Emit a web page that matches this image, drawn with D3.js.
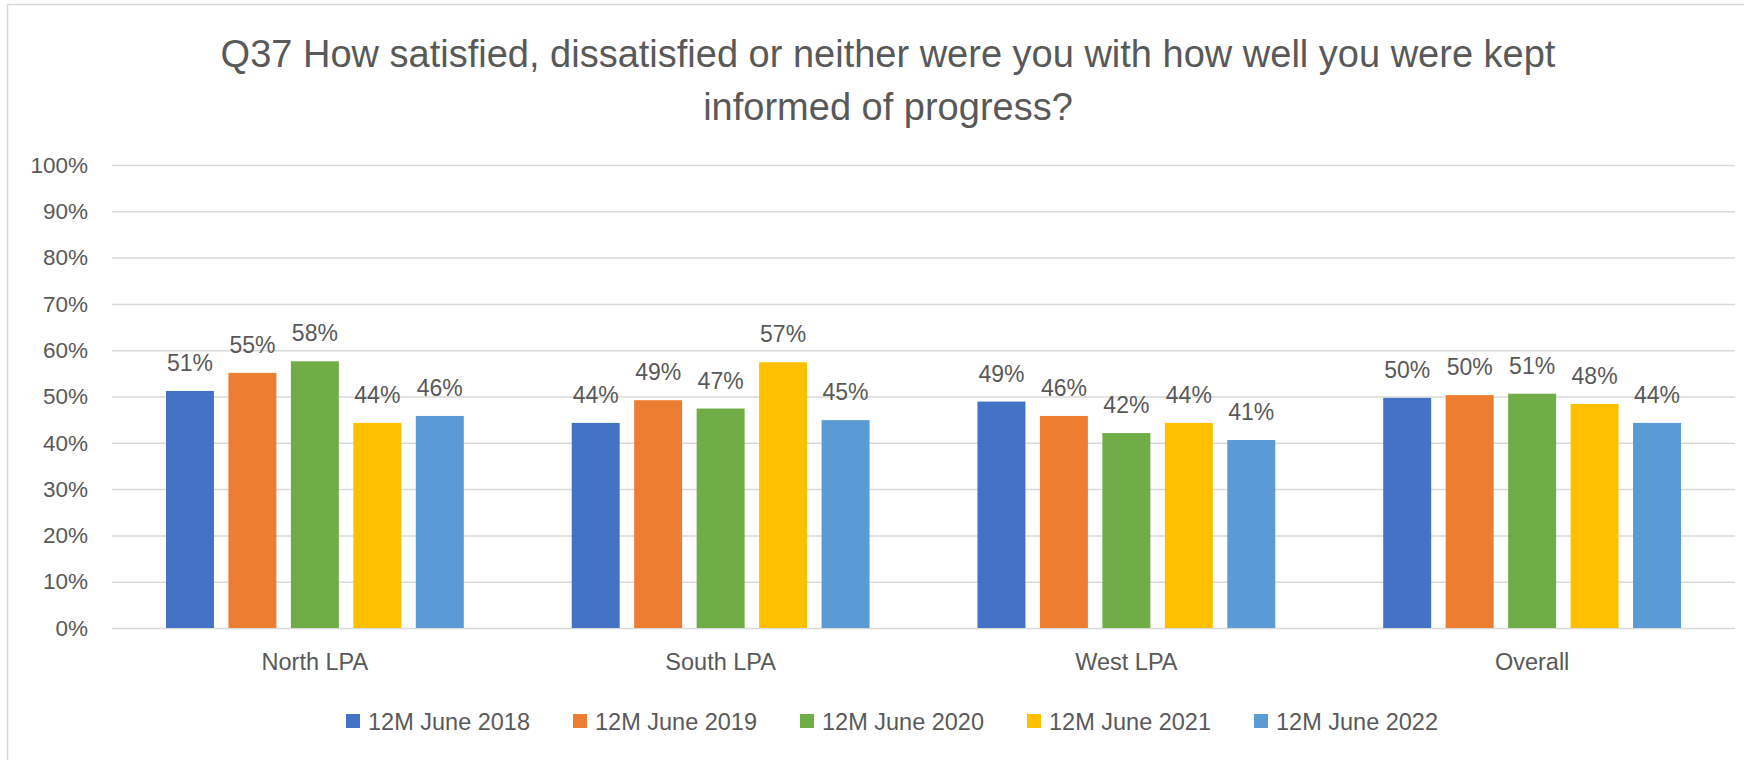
<!DOCTYPE html>
<html>
<head>
<meta charset="utf-8">
<script src="https://cdn.jsdelivr.net/npm/d3@7"></script>
<style>
  body { margin: 0; background: #fff; }
  text { font-family: "Liberation Sans", Arial, sans-serif; fill: #595959; }
</style>
</head>
<body>
<svg id="chart"></svg>
<script>
// data
var categories = ["North LPA", "South LPA", "West LPA", "Overall"];
var series = ["12M June 2018", "12M June 2019", "12M June 2020", "12M June 2021", "12M June 2022"];
var values_2018 = [0.512, 0.443, 0.489, 0.497];
var values_2019 = [0.551, 0.492, 0.458, 0.503];
var values_2020 = [0.576, 0.474, 0.421, 0.506];
var values_2021 = [0.443, 0.574, 0.443, 0.484];
var values_2022 = [0.458, 0.449, 0.406, 0.443];
var y_ticks = [0, 0.1, 0.2, 0.3, 0.4, 0.5, 0.6, 0.7, 0.8, 0.9, 1];
var colors = ["#4472C4", "#ED7D31", "#70AD47", "#FFC000", "#5B9BD5"];
var title_lines = ["Q37 How satisfied, dissatisfied or neither were you with how well you were kept",
                   "informed of progress?"];

const width = 1744;
const height = 760;
const margin = {top: 165, right: 9, bottom: 132, left: 112};
const plotW = width - margin.left - margin.right;
const plotH = height - margin.top - margin.bottom;

var all_values = [values_2018, values_2019, values_2020, values_2021, values_2022];
var table = categories.map(function (c, i) {
    return {
        category: c,
        bars: series.map(function (s, j) { return {series: s, value: all_values[j][i]}; })
    };
});

var svg = d3.select("#chart")
    .attr("width", width)
    .attr("height", height);

// chart border (only top & left visible in the crop)
svg.append("rect")
    .attr("x", 7.5).attr("y", 4.5)
    .attr("width", width + 20).attr("height", height + 20)
    .attr("fill", "none")
    .attr("stroke", "#d9d9d9")
    .attr("stroke-width", 1.5);

// title
svg.append("g")
    .selectAll("text")
    .data(title_lines)
    .enter()
    .append("text")
    .attr("x", 888)
    .attr("y", (d, i) => 67 + i * 53)
    .attr("text-anchor", "middle")
    .style("font-size", "38px")
    .text(d => d);

var g = svg.append("g")
    .attr("transform", `translate(${margin.left},${margin.top})`);

var x0 = d3.scaleBand()
    .domain(categories)
    .range([0, plotW])
    .paddingInner(0.266)
    .paddingOuter(0.133);

var x1 = d3.scaleBand()
    .domain(series)
    .range([0, x0.bandwidth()])
    .paddingInner(0.232)
    .paddingOuter(0);

var y = d3.scaleLinear()
    .domain([0, 1])
    .range([plotH, 0]);

var color = d3.scaleOrdinal().domain(series).range(colors);

// y axis + gridlines
var yAxis = g.append("g")
    .attr("class", "y-axis")
    .call(d3.axisLeft(y)
        .tickValues(y_ticks)
        .tickFormat(d3.format(".0%"))
        .tickSize(-plotW)
        .tickPadding(24));
yAxis.select(".domain").remove();
yAxis.selectAll(".tick line")
    .attr("stroke", "#d9d9d9")
    .attr("stroke-width", 1.5);
yAxis.selectAll(".tick text")
    .style("font-size", "22.5px")
    .style("font-family", "\"Liberation Sans\", Arial, sans-serif")
    .attr("fill", "#595959");

// bars
var group = g.selectAll(".group")
    .data(table)
    .enter()
    .append("g")
    .attr("class", "group")
    .attr("transform", d => `translate(${x0(d.category)},0)`);

group.selectAll("rect")
    .data(d => d.bars)
    .enter()
    .append("rect")
    .attr("x", d => x1(d.series))
    .attr("y", d => y(d.value))
    .attr("width", x1.bandwidth())
    .attr("height", d => y(0) - y(d.value))
    .attr("fill", d => color(d.series));

// data labels
group.selectAll(".label")
    .data(d => d.bars)
    .enter()
    .append("text")
    .attr("class", "label")
    .attr("x", d => x1(d.series) + x1.bandwidth() / 2)
    .attr("y", d => y(d.value) - 20)
    .attr("text-anchor", "middle")
    .style("font-size", "23px")
    .text(d => d3.format(".0%")(d.value));

// category labels
g.selectAll(".cat")
    .data(categories)
    .enter()
    .append("text")
    .attr("class", "cat")
    .attr("x", d => x0(d) + x0.bandwidth() / 2)
    .attr("y", plotH + 42)
    .attr("text-anchor", "middle")
    .style("font-size", "23.5px")
    .text(d => d);

// legend
var legend = svg.append("g")
    .selectAll(".legend")
    .data(series)
    .enter()
    .append("g")
    .attr("class", "legend")
    .attr("transform", (d, i) => `translate(${346 + i * 227},714)`);

legend.append("rect")
    .attr("width", 14)
    .attr("height", 14)
    .attr("fill", d => color(d));

legend.append("text")
    .attr("x", 22)
    .attr("y", 16)
    .style("font-size", "23.5px")
    .text(d => d);
</script>
</body>
</html>
